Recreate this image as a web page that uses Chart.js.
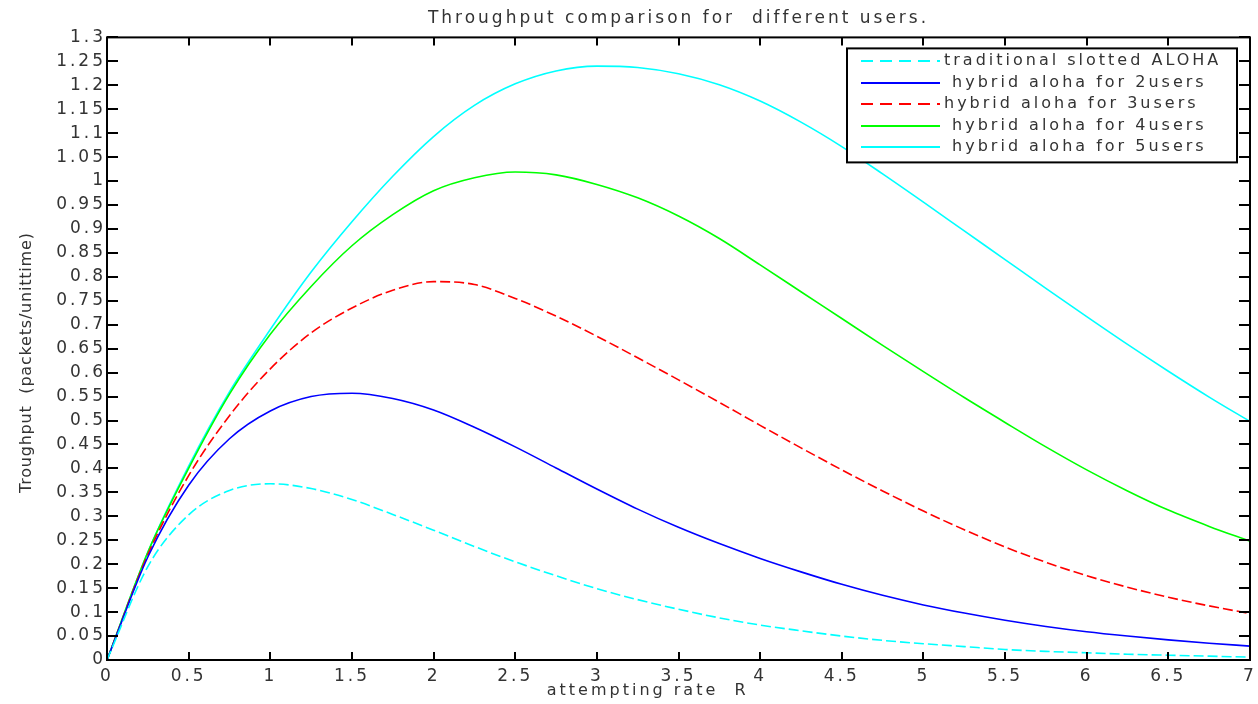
<!DOCTYPE html>
<html>
<head>
<meta charset="utf-8">
<title>Throughput comparison</title>
<script src="https://cdn.jsdelivr.net/npm/chart.js@4.4.1/dist/chart.umd.min.js"></script>
<style>
  html, body { margin: 0; padding: 0; background: #fff; }
  #wrap { width: 1258px; height: 704px; }
</style>
</head>
<body>
<div id="wrap"><canvas id="throughputChart"></canvas></div>
<script>
// attempting rate R (x values)
const rates = [0, 0.25, 0.5, 0.75, 1, 1.25, 1.5, 1.75, 2, 2.25, 2.5, 2.75, 3, 3.25, 3.5,
  3.75, 4, 4.25, 4.5, 4.75, 5, 5.25, 5.5, 5.75, 6, 6.25, 6.5, 6.75, 7];

// throughput
const slottedAloha = [0, 0.195, 0.303, 0.354, 0.368, 0.358, 0.335, 0.304, 0.271, 0.237, 0.205,
  0.176, 0.149, 0.126, 0.106, 0.088, 0.073, 0.061, 0.050, 0.041, 0.034, 0.028, 0.022, 0.018,
  0.015, 0.012, 0.010, 0.008, 0.006];
const hybrid2 = [0, 0.215, 0.365, 0.462, 0.52, 0.55, 0.557, 0.546, 0.522, 0.486, 0.445, 0.401,
  0.357, 0.315, 0.277, 0.243, 0.212, 0.184, 0.158, 0.135, 0.115, 0.098, 0.083, 0.07, 0.059,
  0.05, 0.042, 0.035, 0.029];
const hybrid3 = [0, 0.22, 0.385, 0.51, 0.608, 0.683, 0.735, 0.772, 0.79, 0.784, 0.755, 0.718,
  0.676, 0.631, 0.585, 0.538, 0.49, 0.443, 0.397, 0.353, 0.311, 0.272, 0.236, 0.204, 0.176,
  0.152, 0.131, 0.113, 0.097];
const hybrid4 = [0, 0.225, 0.40, 0.555, 0.68, 0.78, 0.865, 0.93, 0.98, 1.007, 1.019, 1.013,
  0.993, 0.965, 0.927, 0.88, 0.825, 0.769, 0.713, 0.657, 0.602, 0.548, 0.496, 0.445, 0.397,
  0.353, 0.313, 0.279, 0.248];
const hybrid5 = [0, 0.225, 0.405, 0.56, 0.69, 0.81, 0.915, 1.01, 1.093, 1.158, 1.203, 1.23,
  1.24, 1.237, 1.224, 1.201, 1.167, 1.123, 1.072, 1.015, 0.956, 0.896, 0.836, 0.776, 0.717,
  0.659, 0.603, 0.549, 0.498];

const seriesLabels = [
  'traditional slotted ALOHA',
  ' hybrid aloha for 2users',
  'hybrid aloha for 3users',
  ' hybrid aloha for 4users',
  ' hybrid aloha for 5users'
];
const seriesValues = [slottedAloha, hybrid2, hybrid3, hybrid4, hybrid5];
const seriesColors = ['#00ffff', '#0000ff', '#ff0000', '#00ff00', '#00ffff'];
const seriesDashed = [true, false, true, false, false];

const FONT = '"DejaVu Sans", sans-serif';
const TEXT_COLOR = '#333';
const X_TITLE = 'attempting rate  R';
const Y_TITLE = 'Troughput  (packets/unittime)';

// the picture's text is stretched sideways, so space the letters out
const wideText = {
  id: 'wideText',
  beforeLayout(chart) { chart.ctx.letterSpacing = '3px'; },
  beforeDraw(chart) { chart.ctx.letterSpacing = '3px'; }
};

// matlab style box with inward ticks on all four sides, plus the axis labels
const boxFrame = {
  id: 'boxFrame',
  afterDatasetsDraw(chart) {
    const {ctx, chartArea: a, scales} = chart;
    ctx.save();
    ctx.strokeStyle = '#000';
    ctx.lineWidth = 2;
    ctx.beginPath();
    scales.x.ticks.forEach(t => {
      const px = Math.round(scales.x.getPixelForValue(t.value));
      ctx.moveTo(px, a.bottom); ctx.lineTo(px, a.bottom - 8);
      ctx.moveTo(px, a.top); ctx.lineTo(px, a.top + 8);
    });
    scales.y.ticks.forEach(t => {
      const py = Math.round(scales.y.getPixelForValue(t.value));
      ctx.moveTo(a.left, py); ctx.lineTo(a.left + 11, py);
      ctx.moveTo(a.right, py); ctx.lineTo(a.right - 11, py);
    });
    ctx.stroke();
    ctx.strokeRect(a.left, a.top, a.right - a.left, a.bottom - a.top);

    ctx.fillStyle = TEXT_COLOR;
    ctx.textAlign = 'center';
    ctx.textBaseline = 'middle';
    ctx.font = '16px ' + FONT;
    // x label sits a little left of the plot centre in the picture
    ctx.fillText(X_TITLE, a.left + (a.right - a.left) * 0.473, 691);

    // vertical title is not stretched in the picture
    ctx.letterSpacing = '0.8px';
    ctx.translate(27, (a.top + a.bottom) / 2 + 14);
    ctx.rotate(-Math.PI / 2);
    ctx.fillText(Y_TITLE, 0, 0);
    ctx.restore();
  }
};

// legend box in the upper right corner of the plot
const boxLegend = {
  id: 'boxLegend',
  afterDraw(chart) {
    const {ctx, chartArea} = chart;
    const w = 390, h = 114;
    const x0 = chartArea.right - 13 - w, y0 = chartArea.top + 11;
    ctx.save();
    ctx.fillStyle = '#fff';
    ctx.fillRect(x0, y0, w, h);
    ctx.lineWidth = 2;
    ctx.strokeStyle = '#000';
    ctx.strokeRect(x0, y0, w, h);
    ctx.font = '16px ' + FONT;
    ctx.textBaseline = 'middle';
    chart.data.datasets.forEach((ds, i) => {
      const y = Math.round(y0 + 13 + i * 21.5);
      ctx.strokeStyle = ds.borderColor;
      ctx.lineWidth = 2;
      ctx.setLineDash(ds.borderDash.length ? [12, 7] : []);
      ctx.beginPath();
      ctx.moveTo(x0 + 14, y);
      ctx.lineTo(x0 + 93, y);
      ctx.stroke();
      ctx.setLineDash([]);
      ctx.fillStyle = TEXT_COLOR;
      ctx.fillText(ds.label, x0 + 97, y);
    });
    ctx.restore();
  }
};

const trimNum = v => String(+Number(v).toFixed(2));

const ctx = document.getElementById('throughputChart').getContext('2d');
new Chart(ctx, {
  type: 'line',
  data: {
    datasets: seriesValues.map((vals, i) => ({
      label: seriesLabels[i],
      data: rates.map((r, j) => ({x: r, y: vals[j]})),
      borderColor: seriesColors[i],
      borderWidth: 1.6,
      borderDash: seriesDashed[i] ? [10, 4] : [],
      pointRadius: 0,
      fill: false,
      cubicInterpolationMode: 'monotone'
    }))
  },
  options: {
    responsive: true,
    maintainAspectRatio: false,
    animation: false,
    devicePixelRatio: 1,
    layout: { padding: { left: 12, right: 0, top: 0, bottom: 2 } },
    plugins: {
      legend: { display: false },
      tooltip: { enabled: false },
      title: {
        display: true,
        fullSize: false,
        text: 'Throughput comparison for  different users.',
        color: TEXT_COLOR,
        font: { family: FONT, size: 17, weight: 'normal', lineHeight: 1.2 },
        padding: { top: 8, bottom: 9 }
      }
    },
    scales: {
      x: {
        type: 'linear',
        min: 0,
        max: 7,
        grid: { display: false, drawTicks: false },
        border: { display: false },
        ticks: {
          stepSize: 0.5,
          padding: 6,
          color: TEXT_COLOR,
          maxRotation: 0,
          font: { family: FONT, size: 17 },
          callback: trimNum
        },
        title: { display: false },
        afterFit(scale) {
          scale.height = 42;
          scale.paddingRight = 8;
        }
      },
      y: {
        min: 0,
        max: 1.3,
        grid: { display: false, drawTicks: false },
        border: { display: false },
        ticks: {
          stepSize: 0.05,
          padding: 1,
          color: TEXT_COLOR,
          autoSkip: false,
          font: { family: FONT, size: 17 },
          callback: trimNum
        },
        title: { display: false },
        afterFit(scale) { scale.width = 95; }
      }
    }
  },
  plugins: [wideText, boxFrame, boxLegend]
});
</script>
</body>
</html>
